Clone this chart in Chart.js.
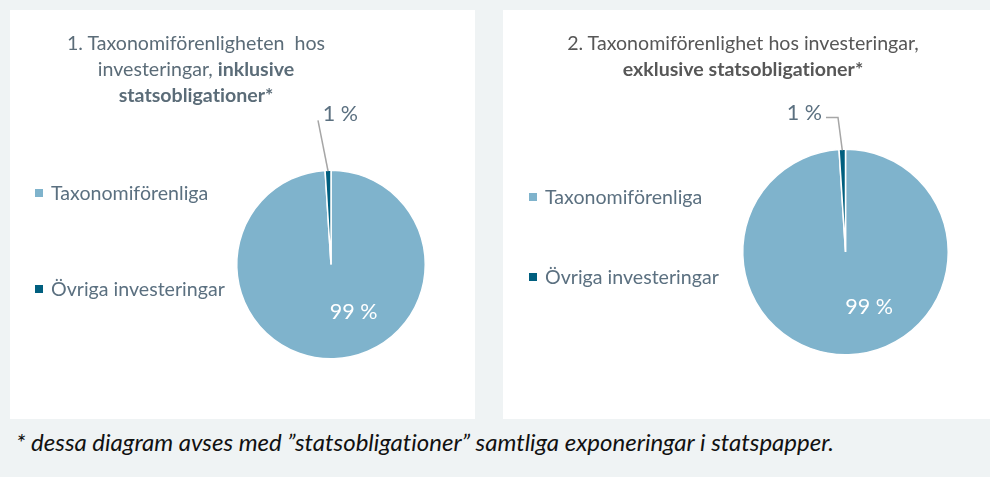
<!DOCTYPE html>
<html lang="sv">
<head>
<meta charset="utf-8">
<script src="https://cdn.jsdelivr.net/npm/chart.js@4.4.1/dist/chart.umd.min.js"></script>
<style>
  html, body { margin: 0; padding: 0; }
  body {
    width: 990px; height: 477px; position: relative; overflow: hidden;
    background: #eff3f4; font-family: Lato, "Open Sans", sans-serif;
    font-variant-ligatures: none;
  }
  .panel { position: absolute; top: 10px; height: 409px; background: #fff; }
  #p1 { left: 10px; width: 465px; }
  #p2 { left: 503px; width: 487px; }
  .panel canvas { position: absolute; left: 0; top: 0; }
  .title {
    position: absolute; left: 0; text-align: center;
    font-size: 19.6px; line-height: 26px; white-space: pre;
  }
  #p1 .title { color: #5b6c78; width: 372px; }
  #p2 .title { color: #575757; width: 480px; }
  .title b { font-weight: 700; }
  .legend { position: absolute; font-size: 19.6px; color: #5b7080; }
  .legend div { position: absolute; white-space: nowrap; line-height: 22px; }
  .legend span {
    display: inline-block; width: 8px; height: 8px; margin-right: 8px;
    vertical-align: 3px;
  }
  .note {
    position: absolute; left: 16px; top: 427px; font-size: 24px;
    font-style: italic; color: #111; white-space: nowrap;
  }
</style>
</head>
<body>
<div class="panel" id="p1">
  <canvas id="c1" width="465" height="409"></canvas>
  <div class="title" style="top:20px">1. Taxonomiförenligheten  hos
investeringar, <b>inklusive</b>
<b>statsobligationer*</b></div>
  <div class="legend" id="l1"></div>
</div>
<div class="panel" id="p2">
  <canvas id="c2" width="487" height="409"></canvas>
  <div class="title" style="top:20px">2. Taxonomiförenlighet hos investeringar,
<b>exklusive statsobligationer*</b></div>
  <div class="legend" id="l2"></div>
</div>
<div class="note">* dessa diagram avses med ”statsobligationer” samtliga exponeringar i statspapper.</div>

<script>
'use strict';

const categories = ['Taxonomiförenliga', 'Övriga investeringar'];
const inklusiveValues = [99, 1];
const exklusiveValues = [99, 1];
const valueLabels = ['99 %', '1 %'];
const sliceColors = ['#7fb3cc', '#005f7f'];

// draws "99 %" inside and "1 %" outside with a leader line
const sliceLabelsPlugin = {
    id: 'sliceLabels',
    afterDatasetsDraw(chart, args, opts) {
        const ctx = chart.ctx;
        const arcs = chart.getDatasetMeta(0).data;
        ctx.save();
        ctx.font = '21.5px Lato, "Open Sans", sans-serif';
        ctx.textAlign = 'center';
        ctx.textBaseline = 'middle';
        arcs.forEach((arc, i) => {
            const p = opts.pos[i];
            const r = arc.outerRadius;
            const cx = arc.x, cy = arc.y;
            if (p.leader) {
                const mid = (arc.startAngle + arc.endAngle) / 2;
                const ex = cx + Math.cos(mid) * r * 0.99;
                const ey = cy + Math.sin(mid) * r * 0.99;
                ctx.strokeStyle = '#a6a6a6';
                ctx.lineWidth = 1.5;
                ctx.beginPath();
                p.leader.forEach((pt, k) => {
                    const x = cx + pt[0] * r, y = cy + pt[1] * r;
                    if (k === 0) ctx.moveTo(x, y); else ctx.lineTo(x, y);
                });
                ctx.lineTo(ex, ey);
                ctx.stroke();
            }
            ctx.fillStyle = p.color;
            ctx.fillText(valueLabels[i], cx + p.dx * r, cy + p.dy * r);
        });
        ctx.restore();
    }
};

function buildLegend(el, items) {
    items.forEach(it => {
        const row = document.createElement('div');
        row.style.left = it.x + 'px';
        row.style.top = it.y + 'px';
        const sw = document.createElement('span');
        sw.style.background = sliceColors[it.i];
        row.appendChild(sw);
        row.appendChild(document.createTextNode(categories[it.i]));
        el.appendChild(row);
    });
}

function makePie(id, values, padding, pos) {
    return new Chart(document.getElementById(id), {
        type: 'pie',
        data: {
            labels: categories,
            datasets: [{
                data: values,
                backgroundColor: sliceColors,
                borderColor: '#ffffff',
                borderWidth: 1.5
            }]
        },
        options: {
            responsive: false,
            animation: false,
            layout: { padding },
            plugins: {
                legend: { display: false },
                tooltip: { enabled: false },
                sliceLabels: { pos }
            }
        },
        plugins: [sliceLabelsPlugin]
    });
}

makePie('c1', inklusiveValues, { left: 226, top: 159, right: 49, bottom: 59 }, [
    { dx: 0.24, dy: 0.50, color: '#ffffff' },
    { dx: 0.10, dy: -1.60, color: '#5b7080', leader: [[-0.138, -1.53]] }
]);
makePie('c2', exklusiveValues, { left: 239, top: 138, right: 41, bottom: 63 }, [
    { dx: 0.23, dy: 0.54, color: '#ffffff' },
    { dx: -0.40, dy: -1.355, color: '#5b7080', leader: [[-0.19, -1.31], [-0.073, -1.31]] }
]);

buildLegend(document.getElementById('l1'), [
    { i: 0, x: 25, y: 172 },
    { i: 1, x: 25, y: 268 }
]);
buildLegend(document.getElementById('l2'), [
    { i: 0, x: 26, y: 176 },
    { i: 1, x: 26, y: 256 }
]);
</script>
</body>
</html>
